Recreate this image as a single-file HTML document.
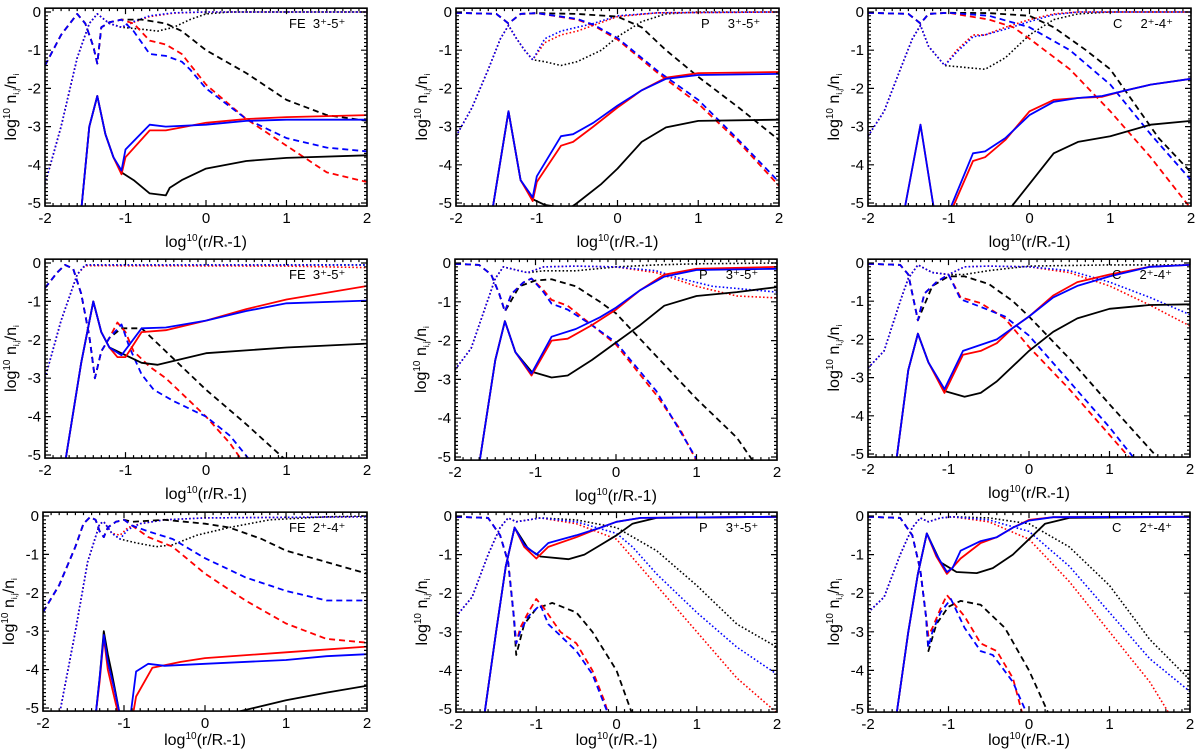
<!DOCTYPE html>
<html><head><meta charset="utf-8">
<style>
html,body{margin:0;padding:0;background:#fff;}
svg{display:block;font-family:"Liberation Sans",Arial,sans-serif;}
</style></head>
<body>
<svg id="chart" width="1200" height="750" viewBox="0 0 1200 750"></svg>
<script>
// ---------- data (x = log10(r/R*-1), y = log10 n_ij/n_i) ----------
const xTicks = [-2,-1,0,1,2];
const yTicks = [0,-1,-2,-3,-4,-5];
const panelLabels = ["FE\u00A0\u00A03\u207A-5\u207A","P\u00A0\u00A0\u00A0\u00A0\u00A03\u207A-5\u207A","C\u00A0\u00A0\u00A0\u00A0\u00A02\u207A-4\u207A","FE\u00A0\u00A03\u207A-5\u207A","P\u00A0\u00A0\u00A0\u00A0\u00A03\u207A-5\u207A","C\u00A0\u00A0\u00A0\u00A0\u00A02\u207A-4\u207A","FE\u00A0\u00A02\u207A-4\u207A","P\u00A0\u00A0\u00A0\u00A0\u00A03\u207A-5\u207A","C\u00A0\u00A0\u00A0\u00A0\u00A02\u207A-4\u207A"];

// Panel 1
const p1_top = [[-2,-1.4],[-1.8,-0.6],[-1.6,-0.05],[-1.5,-0.3],[-1.4,-0.9],[-1.35,-1.35],[-1.3,-0.4],[-1.2,-0.27],[-1.05,-0.2]];
const p1_dot_rb = [[-2,-4.5],[-1.8,-3],[-1.6,-1.2],[-1.45,-0.3],[-1.35,-0.05],[-1.2,-0.3],[-1.05,-0.4]];
const p1_dotted_black = [...p1_dot_rb,[-0.8,-0.45],[-0.6,-0.5],[-0.4,-0.4],[-0.2,-0.2],[0,-0.05],[0.3,0],[2,0]];
const p1_dotted_red = [...p1_dot_rb,[-0.9,-0.27],[-0.7,-0.12],[-0.4,-0.03],[0,0],[2,0]];
const p1_dotted_blue = [...p1_dot_rb,[-0.9,-0.25],[-0.7,-0.1],[-0.4,-0.02],[0,0],[2,0]];
const p1_dashed_black = [...p1_top,[-0.8,-0.2],[-0.5,-0.3],[-0.3,-0.5],[0,-1.0],[0.5,-1.6],[1,-2.3],[1.5,-2.7],[2,-2.85]];
const p1_dashed_red = [...p1_top,[-0.9,-0.3],[-0.7,-0.75],[-0.5,-0.85],[-0.3,-1.1],[0,-1.9],[0.5,-2.8],[1,-3.5],[1.5,-4.2],[2,-4.45]];
const p1_dashed_blue = [...p1_top,[-0.9,-0.5],[-0.7,-1.1],[-0.5,-1.15],[-0.3,-1.3],[-0.2,-1.5],[0,-2.0],[0.5,-2.8],[1,-3.3],[1.5,-3.55],[2,-3.65]];
const p1_spike = [[-1.55,-5.2],[-1.45,-3],[-1.35,-2.2],[-1.25,-3.2],[-1.15,-3.8]];
const p1_solid_black = [...p1_spike,[-1.05,-4.2],[-0.9,-4.4],[-0.7,-4.75],[-0.5,-4.8],[-0.45,-4.6],[-0.3,-4.4],[0,-4.1],[0.5,-3.9],[1,-3.82],[2,-3.75]];
const p1_solid_red = [...p1_spike,[-1.05,-4.25],[-1.0,-3.8],[-0.7,-3.1],[-0.5,-3.1],[0,-2.9],[0.5,-2.8],[1,-2.75],[2,-2.7]];
const p1_solid_blue = [...p1_spike,[-1.05,-4.15],[-1.0,-3.6],[-0.7,-2.95],[-0.5,-3.0],[0,-2.95],[0.5,-2.85],[1,-2.82],[2,-2.82]];

// Panel 2
const p2_top = [[-2,-0.02],[-1.5,-0.05],[-1.35,-0.3],[-1.2,-0.05],[-1,-0.03]];
const p2_dashed_black = [...p2_top,[-0.5,-0.05],[0,-0.12],[0.3,-0.4],[0.6,-1.0],[1,-1.7],[1.5,-2.5],[2,-3.35]];
const p2_dashed_red = [...p2_top,[-0.5,-0.2],[-0.3,-0.35],[0,-0.72],[0.5,-1.6],[1,-2.4],[1.5,-3.4],[2,-4.55]];
const p2_dashed_blue = [...p2_top,[-0.5,-0.18],[-0.3,-0.33],[0,-0.68],[0.5,-1.55],[1,-2.3],[1.5,-3.35],[2,-4.45]];
const p2_dot = [[-2,-3.25],[-1.8,-2.5],[-1.6,-1.5],[-1.45,-0.7],[-1.35,-0.35],[-1.25,-0.7],[-1.15,-1.0],[-1.05,-1.25]];
const p2_dotted_black = [...p2_dot,[-0.9,-1.3],[-0.7,-1.4],[-0.5,-1.3],[-0.2,-1.0],[0,-0.65],[0.3,-0.25],[0.6,-0.05],[1,0],[2,0]];
const p2_dotted_red = [...p2_dot,[-0.9,-0.8],[-0.7,-0.6],[-0.5,-0.5],[-0.3,-0.35],[0,-0.12],[0.5,-0.02],[2,0]];
const p2_dotted_blue = [...p2_dot,[-0.9,-0.7],[-0.7,-0.5],[-0.5,-0.4],[-0.3,-0.3],[0,-0.1],[0.5,-0.02],[2,0]];
const p2_spike = [[-1.55,-5.2],[-1.35,-2.6],[-1.2,-4.4]];
const p2_solid_black = [...p2_spike,[-1.05,-4.9],[-0.9,-5.05],[-0.6,-5.15],[-0.5,-5.0],[-0.2,-4.5],[0,-4.1],[0.3,-3.4],[0.6,-3.02],[1,-2.85],[2,-2.82]];
const p2_solid_red = [...p2_spike,[-1.05,-4.95],[-1,-4.45],[-0.7,-3.5],[-0.55,-3.4],[-0.3,-3.0],[0,-2.5],[0.3,-2.05],[0.6,-1.72],[1,-1.6],[2,-1.57]];
const p2_solid_blue = [...p2_spike,[-1.05,-4.85],[-1,-4.3],[-0.7,-3.25],[-0.55,-3.2],[-0.3,-2.9],[0,-2.45],[0.3,-2.05],[0.6,-1.75],[1,-1.65],[2,-1.62]];

// Panel 3
const p3_top = [[-2,-0.02],[-1.5,-0.05],[-1.35,-0.3],[-1.25,-0.05],[-1,-0.02]];
const p3_dashed_black = [...p3_top,[-0.5,-0.03],[0,-0.1],[0.3,-0.4],[0.7,-1.0],[1,-1.5],[1.3,-2.4],[1.6,-3.3],[2,-4.2]];
const p3_dashed_red = [...p3_top,[-0.5,-0.2],[-0.2,-0.4],[0,-0.7],[0.5,-1.5],[1,-2.6],[1.5,-3.8],[2,-5.15]];
const p3_dashed_blue = [...p3_top,[-0.5,-0.1],[0,-0.4],[0.5,-1.0],[1,-1.9],[1.5,-3.2],[2,-4.4]];
const p3_dot = [[-2,-3.25],[-1.8,-2.6],[-1.6,-1.5],[-1.45,-0.7],[-1.35,-0.35],[-1.25,-0.9],[-1.05,-1.4]];
const p3_dotted_black = [...p3_dot,[-0.8,-1.45],[-0.55,-1.5],[-0.3,-1.2],[0,-0.6],[0.3,-0.2],[0.6,-0.05],[1,0],[2,0]];
const p3_dotted_red = [...p3_dot,[-0.9,-1.0],[-0.7,-0.6],[-0.55,-0.6],[-0.3,-0.4],[0,-0.2],[0.3,-0.05],[0.6,0],[2,0]];
const p3_dotted_blue = [...p3_dot,[-0.9,-1.05],[-0.7,-0.65],[-0.55,-0.6],[-0.3,-0.45],[0,-0.25],[0.3,-0.07],[0.6,0],[2,0]];
const p3_spike = [[-1.55,-5.2],[-1.35,-2.95],[-1.15,-5.6]];
const p3_solid_black = [[-0.3,-5.3],[0,-4.5],[0.3,-3.7],[0.6,-3.4],[1,-3.25],[1.5,-2.95],[2,-2.85]];
const p3_solid_red = [...p3_spike,[-1.05,-5.6],[-0.7,-3.9],[-0.55,-3.8],[-0.3,-3.35],[0,-2.6],[0.3,-2.3],[0.6,-2.25],[0.9,-2.22],[1.2,-2.05],[1.5,-1.9],[2,-1.75]];
const p3_solid_blue = [...p3_spike,[-1.07,-5.6],[-0.7,-3.7],[-0.55,-3.65],[-0.3,-3.3],[0,-2.7],[0.3,-2.35],[0.6,-2.25],[0.9,-2.2],[1.2,-2.05],[1.5,-1.9],[2,-1.75]];

// Panel 4
const p4_top = [[-2,-0.65],[-1.85,-0.25],[-1.75,-0.05],[-1.65,-0.15],[-1.55,-0.8],[-1.45,-1.9],[-1.38,-3.0],[-1.3,-2.3],[-1.2,-1.95]];
const p4_dashed_black = [...p4_top,[-1.05,-1.7],[-0.8,-1.7],[-0.6,-2.1],[-0.3,-2.7],[0,-3.3],[0.5,-4.2],[1,-5.15]];
const p4_dashed_red = [...p4_top,[-1.1,-1.55],[-1,-1.8],[-0.9,-2.3],[-0.7,-2.7],[-0.5,-3.0],[-0.2,-3.6],[0,-4.0],[0.3,-4.7],[0.45,-5.15]];
const p4_dashed_blue = [...p4_top,[-1.05,-1.6],[-0.95,-2.2],[-0.8,-2.9],[-0.65,-3.3],[-0.4,-3.6],[0,-4.0],[0.3,-4.5],[0.55,-5.15]];
const p4_dotted_black = [[-2,-3],[-1.8,-1.5],[-1.6,-0.3],[-1.5,-0.05],[2,-0.05]];
const p4_dotted_red = [[-2,-3],[-1.8,-1.5],[-1.6,-0.3],[-1.5,-0.07],[1,-0.08],[2,-0.12]];
const p4_dotted_blue = [[-2,-3],[-1.8,-1.5],[-1.6,-0.3],[-1.5,-0.05],[2,-0.05]];
const p4_spike = [[-1.75,-5.2],[-1.55,-2.6],[-1.4,-1.0],[-1.3,-1.8],[-1.2,-2.2]];
const p4_solid_black = [...p4_spike,[-1.1,-2.3],[-0.8,-2.6],[-0.6,-2.65],[-0.3,-2.5],[0,-2.35],[1,-2.2],[2,-2.1]];
const p4_solid_red = [...p4_spike,[-1.1,-2.45],[-1,-2.45],[-0.8,-1.8],[-0.5,-1.75],[0,-1.5],[0.5,-1.2],[1,-0.95],[2,-0.6]];
const p4_solid_blue = [...p4_spike,[-1.05,-2.4],[-0.8,-1.7],[-0.5,-1.68],[0,-1.5],[0.5,-1.25],[1,-1.05],[2,-0.98]];

// Panel 5
const p5_top = [[-2,-0.02],[-1.7,-0.05],[-1.55,-0.3],[-1.45,-0.8],[-1.38,-1.25]];
const p5_dashed_black = [...p5_top,[-1.2,-0.6],[-1.0,-0.45],[-0.8,-0.42],[-0.5,-0.6],[-0.2,-1.0],[0,-1.3],[0.5,-2.4],[1,-3.5],[1.5,-4.5],[1.7,-5.1]];
const p5_dashed_red = [...p5_top,[-1.3,-0.8],[-1.15,-0.5],[-1.05,-0.4],[-0.9,-0.7],[-0.8,-0.95],[-0.6,-1.1],[-0.3,-1.6],[0,-2.1],[0.5,-3.4],[0.8,-4.3],[1,-5.1]];
const p5_dashed_blue = [...p5_top,[-1.3,-0.8],[-1.15,-0.5],[-1.05,-0.4],[-0.9,-0.75],[-0.8,-1.05],[-0.6,-1.2],[-0.3,-1.6],[0,-2.05],[0.5,-3.3],[1,-5.05]];
const p5_dot = [[-2,-2.75],[-1.8,-2.2],[-1.6,-1.0],[-1.5,-0.4],[-1.4,-0.1],[-1.3,-0.15],[-1.1,-0.25]];
const p5_dotted_black = [...p5_dot,[-0.9,-0.2],[-0.5,-0.2],[0,-0.1],[0.5,-0.05],[1,-0.02],[2,0]];
const p5_dotted_red = [...p5_dot,[-0.9,-0.1],[-0.5,-0.08],[0,-0.1],[0.5,-0.25],[1,-0.6],[1.5,-0.85],[2,-0.9]];
const p5_dotted_blue = [...p5_dot,[-0.9,-0.1],[-0.5,-0.08],[0,-0.1],[0.5,-0.2],[0.8,-0.4],[1.2,-0.6],[2,-0.75]];
const p5_spike = [[-1.7,-5.2],[-1.5,-2.5],[-1.38,-1.5],[-1.25,-2.3]];
const p5_solid_black = [...p5_spike,[-1.05,-2.8],[-0.8,-2.95],[-0.6,-2.9],[-0.3,-2.5],[0,-2.05],[0.3,-1.6],[0.6,-1.1],[1,-0.85],[1.5,-0.75],[2,-0.62]];
const p5_solid_red = [...p5_spike,[-1.05,-2.9],[-0.8,-2.0],[-0.6,-1.95],[-0.3,-1.6],[0,-1.2],[0.3,-0.7],[0.6,-0.3],[1,-0.15],[2,-0.1]];
const p5_solid_blue = [...p5_spike,[-1.05,-2.85],[-0.8,-1.9],[-0.5,-1.7],[-0.2,-1.4],[0,-1.15],[0.3,-0.7],[0.6,-0.35],[1,-0.18],[2,-0.15]];

// Panel 6
const p6_top = [[-2,-0.02],[-1.6,-0.05],[-1.5,-0.3],[-1.38,-1.5]];
const p6_dashed_black = [...p6_top,[-1.2,-0.6],[-1,-0.35],[-0.8,-0.35],[-0.5,-0.55],[-0.2,-1.0],[0,-1.4],[0.5,-2.5],[1,-3.7],[1.6,-5.1]];
const p6_dashed_red = [...p6_top,[-1.3,-0.8],[-1.15,-0.5],[-1,-0.3],[-0.85,-0.9],[-0.6,-1.05],[-0.3,-1.45],[0,-2.2],[0.5,-3.3],[1,-4.5],[1.25,-5.1]];
const p6_dashed_blue = [...p6_top,[-1.3,-0.8],[-1.15,-0.5],[-1,-0.3],[-0.85,-0.95],[-0.6,-1.15],[-0.3,-1.4],[0,-1.9],[0.5,-3.1],[1,-4.3],[1.3,-5.1]];
const p6_dot = [[-2,-2.75],[-1.8,-2.3],[-1.6,-1.0],[-1.5,-0.4],[-1.38,-0.05],[-1.2,-0.25],[-1,-0.3]];
const p6_dotted_black = [...p6_dot,[-0.8,-0.3],[-0.5,-0.2],[0,-0.08],[1,-0.05],[2,-0.05]];
const p6_dotted_red = [...p6_dot,[-0.8,-0.1],[-0.5,-0.08],[0,-0.1],[0.5,-0.25],[1,-0.6],[1.5,-1.1],[2,-1.65]];
const p6_dotted_blue = [...p6_dot,[-0.8,-0.1],[-0.5,-0.08],[0,-0.1],[0.5,-0.2],[1,-0.5],[1.5,-0.9],[2,-1.35]];
const p6_spike = [[-1.65,-5.2],[-1.5,-2.8],[-1.38,-1.85],[-1.25,-2.6]];
const p6_solid_black = [...p6_spike,[-1.05,-3.35],[-0.8,-3.5],[-0.6,-3.4],[-0.4,-3.1],[0,-2.3],[0.3,-1.8],[0.6,-1.45],[1,-1.2],[1.5,-1.1],[2,-1.08]];
const p6_solid_red = [...p6_spike,[-1.05,-3.4],[-0.82,-2.4],[-0.6,-2.3],[-0.4,-2.1],[-0.2,-1.7],[0,-1.4],[0.3,-0.85],[0.6,-0.5],[1,-0.3],[1.5,-0.1],[2,-0.05]];
const p6_solid_blue = [...p6_spike,[-1.05,-3.3],[-0.82,-2.3],[-0.4,-2.0],[-0.2,-1.7],[0,-1.4],[0.3,-0.9],[0.6,-0.6],[1,-0.35],[1.5,-0.1],[2,-0.05]];

// Panel 7
const p7_top = [[-2,-2.5],[-1.8,-1.8],[-1.6,-0.8],[-1.5,-0.2],[-1.42,-0.03],[-1.35,-0.1],[-1.3,-0.4],[-1.25,-0.55],[-1.2,-0.3],[-1.1,-0.15],[-1,-0.1]];
const p7_dashed_black = [...p7_top,[-0.9,-0.15],[-0.5,-0.1],[0,-0.2],[0.3,-0.3],[0.7,-0.6],[1,-0.9],[1.5,-1.2],[2,-1.5]];
const p7_dashed_red = [...p7_top,[-0.9,-0.25],[-0.7,-0.55],[-0.4,-0.8],[0,-1.5],[0.5,-2.2],[1,-2.8],[1.5,-3.2],[2,-3.3]];
const p7_dashed_blue = [...p7_top,[-0.9,-0.25],[-0.7,-0.4],[-0.4,-0.6],[0,-1.1],[0.5,-1.6],[1,-1.95],[1.5,-2.2],[2,-2.2]];
const p7_dot = [[-1.8,-5.2],[-1.6,-3],[-1.45,-1.2],[-1.3,-0.2],[-1.25,-0.15],[-1.15,-0.45]];
const p7_dotted_black = [...p7_dot,[-1.05,-0.6],[-0.85,-0.7],[-0.6,-0.8],[-0.4,-0.75],[-0.1,-0.5],[0.3,-0.3],[0.8,-0.1],[1.5,-0.02],[2,0]];
const p7_dotted_red = [...p7_dot,[-1.05,-0.5],[-0.95,-0.3],[-0.8,-0.2],[-0.5,-0.1],[0,-0.05],[2,-0.02]];
const p7_dotted_blue = [...p7_dot,[-1.05,-0.6],[-0.95,-0.35],[-0.8,-0.2],[-0.5,-0.1],[0,-0.05],[2,-0.02]];
const p7_solid_black = [[-1.35,-5.2],[-1.3,-4.2],[-1.25,-3.0],[-1.2,-3.6],[-1.15,-4.1],[-1.05,-5.2],null,[0.3,-5.15],[0.6,-5.0],[1,-4.8],[1.5,-4.6],[2,-4.42]];
const p7_solid_red = [[-1.35,-5.2],[-1.3,-4.3],[-1.25,-3.15],[-1.2,-4.0],[-1.1,-4.9],[-1.05,-5.3],null,[-0.9,-5.3],[-0.85,-4.7],[-0.65,-3.95],[-0.3,-3.8],[0,-3.7],[1,-3.55],[2,-3.4]];
const p7_solid_blue = [[-1.35,-5.2],[-1.3,-4.2],[-1.25,-3.1],[-1.2,-3.8],[-1.12,-4.5],[-1.05,-5.2],null,[-0.92,-5.2],[-0.85,-4.05],[-0.7,-3.85],[-0.5,-3.9],[0,-3.85],[1,-3.75],[1.5,-3.65],[2,-3.6]];

// Panel 8
const p8_top = [[-2,-0.02],[-1.6,-0.05],[-1.45,-0.5],[-1.35,-1.2],[-1.28,-2.6]];
const p8_dashed_black = [...p8_top,[-1.25,-3.6],[-1.15,-2.8],[-1.0,-2.4],[-0.8,-2.25],[-0.5,-2.5],[-0.3,-3.0],[0,-4.0],[0.2,-5.15]];
const p8_dashed_red = [...p8_top,[-1.25,-3.3],[-1.2,-2.9],[-1.1,-2.5],[-1.0,-2.15],[-0.9,-2.4],[-0.7,-3.0],[-0.5,-3.3],[-0.3,-4.0],[-0.15,-4.8],[-0.1,-5.15]];
const p8_dashed_blue = [...p8_top,[-1.25,-3.3],[-1.2,-3.0],[-1.1,-2.6],[-0.95,-2.3],[-0.85,-2.8],[-0.6,-3.3],[-0.5,-3.5],[-0.3,-4.1],[-0.1,-5.15]];
const p8_dot = [[-2,-2.6],[-1.8,-2.1],[-1.6,-1.0],[-1.45,-0.3],[-1.35,-0.05],[-1.25,-0.15],[-1.1,-0.1],[-0.95,-0.05]];
const p8_dotted_black = [...p8_dot,[-0.5,-0.1],[0,-0.3],[0.5,-0.9],[1,-1.8],[1.5,-2.8],[2,-3.4]];
const p8_dotted_red = [...p8_dot,[-0.5,-0.2],[0,-0.6],[0.5,-1.8],[1,-3.0],[1.5,-4.2],[2,-5.1]];
const p8_dotted_blue = [...p8_dot,[-0.5,-0.15],[0,-0.45],[0.2,-0.8],[0.5,-1.5],[1,-2.5],[1.5,-3.4],[2,-4.1]];
const p8_spike = [[-1.65,-5.2],[-1.5,-3.0],[-1.38,-1.3],[-1.27,-0.3]];
const p8_solid_black = [...p8_spike,[-1.1,-0.85],[-0.95,-1.05],[-0.6,-1.12],[-0.4,-1.0],[-0.2,-0.75],[0,-0.5],[0.2,-0.2],[0.5,-0.05],[2,-0.02]];
const p8_solid_red = [...p8_spike,[-1.15,-0.8],[-1.0,-1.1],[-0.85,-0.8],[-0.5,-0.55],[-0.2,-0.3],[0,-0.15],[0.3,-0.05],[2,-0.02]];
const p8_solid_blue = [...p8_spike,[-1.15,-0.75],[-1.0,-1.0],[-0.85,-0.7],[-0.5,-0.5],[-0.2,-0.3],[0,-0.15],[0.3,-0.05],[2,-0.02]];

// Panel 9
const p9_top = [[-2,-0.02],[-1.6,-0.05],[-1.45,-0.5],[-1.35,-1.4],[-1.28,-2.6]];
const p9_dashed_black = [...p9_top,[-1.25,-3.5],[-1.15,-2.8],[-1.0,-2.35],[-0.85,-2.2],[-0.6,-2.3],[-0.3,-2.9],[0,-4.0],[0.25,-5.15]];
const p9_dashed_red = [...p9_top,[-1.25,-3.1],[-1.2,-2.9],[-1.1,-2.4],[-1.02,-2.05],[-0.8,-2.6],[-0.6,-3.3],[-0.4,-3.5],[-0.2,-4.2],[-0.08,-5.15]];
const p9_dashed_blue = [...p9_top,[-1.25,-3.4],[-1.2,-3.0],[-1.1,-2.5],[-0.97,-2.15],[-0.8,-2.9],[-0.6,-3.5],[-0.45,-3.6],[-0.2,-4.3],[-0.02,-5.15]];
const p9_dot = [[-2,-2.5],[-1.8,-2.1],[-1.6,-1.0],[-1.45,-0.3],[-1.35,-0.05],[-1.25,-0.15],[-1.1,-0.05],[-0.95,-0.02]];
const p9_dotted_black = [...p9_dot,[-0.5,-0.05],[0,-0.2],[0.5,-0.8],[1,-1.8],[1.5,-3.2],[2,-4.25]];
const p9_dotted_red = [...p9_dot,[-0.5,-0.15],[0,-0.6],[0.5,-1.7],[1,-3.0],[1.5,-4.3],[1.75,-5.15]];
const p9_dotted_blue = [...p9_dot,[-0.5,-0.1],[0,-0.4],[0.5,-1.3],[1,-2.5],[1.5,-3.7],[2,-4.55]];
const p9_spike = [[-1.65,-5.2],[-1.5,-3.0],[-1.38,-1.5],[-1.27,-0.45]];
const p9_solid_black = [...p9_spike,[-1.1,-1.2],[-0.9,-1.45],[-0.65,-1.48],[-0.45,-1.35],[-0.2,-1.0],[0,-0.6],[0.2,-0.2],[0.5,-0.05],[2,-0.02]];
const p9_solid_red = [...p9_spike,[-1.15,-1.05],[-1.02,-1.5],[-0.85,-1.1],[-0.6,-0.7],[-0.4,-0.55],[-0.2,-0.3],[0,-0.1],[0.3,-0.03],[2,-0.02]];
const p9_solid_blue = [...p9_spike,[-1.15,-1.0],[-1.02,-1.45],[-0.95,-1.35],[-0.85,-0.9],[-0.6,-0.65],[-0.4,-0.55],[-0.2,-0.3],[0,-0.12],[0.3,-0.03],[2,-0.02]];

const panelSeries = [
 [p1_dotted_black,p1_dotted_red,p1_dotted_blue,p1_dashed_black,p1_dashed_red,p1_dashed_blue,p1_solid_black,p1_solid_red,p1_solid_blue],
 [p2_dotted_black,p2_dotted_red,p2_dotted_blue,p2_dashed_black,p2_dashed_red,p2_dashed_blue,p2_solid_black,p2_solid_red,p2_solid_blue],
 [p3_dotted_black,p3_dotted_red,p3_dotted_blue,p3_dashed_black,p3_dashed_red,p3_dashed_blue,p3_solid_black,p3_solid_red,p3_solid_blue],
 [p4_dotted_black,p4_dotted_red,p4_dotted_blue,p4_dashed_black,p4_dashed_red,p4_dashed_blue,p4_solid_black,p4_solid_red,p4_solid_blue],
 [p5_dotted_black,p5_dotted_red,p5_dotted_blue,p5_dashed_black,p5_dashed_red,p5_dashed_blue,p5_solid_black,p5_solid_red,p5_solid_blue],
 [p6_dotted_black,p6_dotted_red,p6_dotted_blue,p6_dashed_black,p6_dashed_red,p6_dashed_blue,p6_solid_black,p6_solid_red,p6_solid_blue],
 [p7_dotted_black,p7_dotted_red,p7_dotted_blue,p7_dashed_black,p7_dashed_red,p7_dashed_blue,p7_solid_black,p7_solid_red,p7_solid_blue],
 [p8_dotted_black,p8_dotted_red,p8_dotted_blue,p8_dashed_black,p8_dashed_red,p8_dashed_blue,p8_solid_black,p8_solid_red,p8_solid_blue],
 [p9_dotted_black,p9_dotted_red,p9_dotted_blue,p9_dashed_black,p9_dashed_red,p9_dashed_blue,p9_solid_black,p9_solid_red,p9_solid_blue]
];
const seriesNames = ["dotted-black","dotted-red","dotted-blue","dashed-black","dashed-red","dashed-blue","solid-black","solid-red","solid-blue"];

// ---------- layout ----------
const layout = [
 {x0:45,x1:367,y0:12,y5:203},{x0:456,x1:779,y0:12,y5:203},{x0:868,x1:1191,y0:12,y5:203},
 {x0:45,x1:367,y0:263,y5:455},{x0:455,x1:777,y0:263,y5:457},{x0:868,x1:1190,y0:263,y5:454},
 {x0:43,x1:367,y0:516,y5:708},{x0:456,x1:777,y0:516,y5:709},{x0:868,x1:1190,y0:516,y5:709}
];
const colors = {black:"#000",red:"#f00",blue:"#00f"};
const dashes = {dotted:"1.6,2.2",dashed:"6,4",solid:""};
const NS = "http://www.w3.org/2000/svg";
const svg = document.getElementById('chart');
function mk(tag, attrs, parent){const e=document.createElementNS(NS,tag);for(const k in attrs)e.setAttribute(k,attrs[k]);(parent||svg).appendChild(e);return e;}

layout.forEach((L,pi)=>{
  const sx = v => L.x0 + (v+2)/4*(L.x1-L.x0);
  const sy = v => L.y0 + (-v)/5*(L.y5-L.y0);
  const top = sy(0.1), bot = sy(-5.08);
  const g = mk('g',{});
  
  
  const cid='clip'+pi;
  const cp=mk('clipPath',{id:cid},g);
  mk('rect',{x:L.x0,y:top,width:L.x1-L.x0,height:bot-top},cp);
  const lines=mk('g',{'clip-path':'url(#'+cid+')'},g);
  panelSeries[pi].forEach((pts,si)=>{
    const [style,col]=seriesNames[si].split('-');
    let d='',pen=false;
    pts.forEach(p=>{ if(!p){pen=false;return;} d+=(pen?'L':'M')+sx(p[0]).toFixed(1)+','+sy(p[1]).toFixed(1); pen=true; });
    const path=mk('path',{d:d,fill:'none',stroke:colors[col],'stroke-width':style==='dotted'?1.6:1.8,'stroke-dasharray':dashes[style],'stroke-linejoin':'round'},lines);
    
    
  });
  const fr=mk('rect',{x:L.x0,y:top,width:L.x1-L.x0,height:bot-top,fill:'none',stroke:'#000','stroke-width':1.6},g);
  
  
  let td='';
  for(let i=0;i<=40;i++){const v=-2+i*0.1;const x=sx(v);const len=(i%10===0)?6:3;td+=`M${x},${bot}v${-len}M${x},${top}v${len}`;}
  for(let i=0;i<=51;i++){const v=0.1-i*0.1;if(v<-5.08)break;const y=sy(v);const maj=Math.abs(v-Math.round(v))<1e-6;const len=maj?6:3;td+=`M${L.x0},${y}h${len}M${L.x1},${y}h${-len}`;}
  const tk=mk('path',{d:td,stroke:'#000','stroke-width':1.2,fill:'none'},g);
  
  
  xTicks.forEach(v=>{const t=mk('text',{x:sx(v),y:bot+17,'text-anchor':'middle','font-size':15},g);t.textContent=(v<0?'-':'')+Math.abs(v);
    
    });
  yTicks.forEach(v=>{const t=mk('text',{x:L.x0-4,y:sy(v)+5,'text-anchor':'end','font-size':15},g);t.textContent=(v<0?'-':'')+Math.abs(v);
    
    });
  const xt=mk('text',{x:(L.x0+L.x1)/2,y:Math.min(bot+41,745),'text-anchor':'middle','font-size':16},g);
  xt.innerHTML='log<tspan font-size="10" dy="-6">10</tspan><tspan dy="6">(r/R</tspan><tspan font-size="8" dy="3">*</tspan><tspan dy="-3">-1)</tspan>';
  
  
  const cy=(top+bot)/2, cx=Math.max(L.x0-29,12);
  const yt=mk('text',{x:cx,y:cy,'text-anchor':'middle','font-size':16,transform:`rotate(-90 ${cx} ${cy})`},g);
  yt.innerHTML='log<tspan font-size="10" dy="-6">10</tspan><tspan dy="6"> n</tspan><tspan font-size="8" dy="3">i,j</tspan><tspan dy="-3">/n</tspan><tspan font-size="8" dy="3">i</tspan>';
  
  
  const lb=mk('text',{x:L.x1-78,y:L.y0+16,'font-size':13},g);
  lb.textContent=panelLabels[pi];
  
  
});
</script>
</body></html>
